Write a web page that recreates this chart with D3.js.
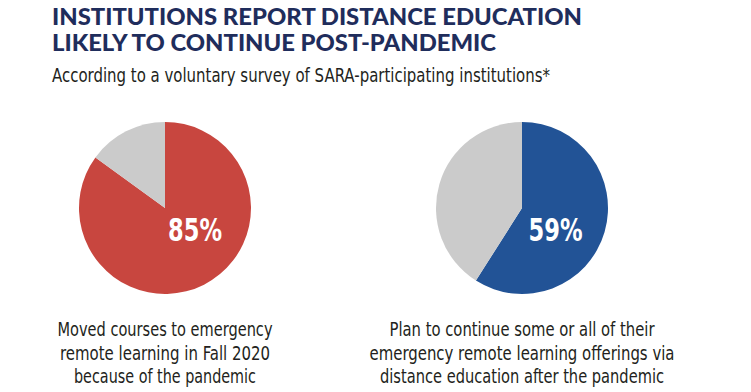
<!DOCTYPE html>
<html>
<head>
<meta charset="utf-8">
<script src="https://cdn.jsdelivr.net/npm/d3@7"></script>
<style>
  html, body { margin: 0; padding: 0; background: #fff; }
  svg { display: block; }
</style>
</head>
<body>
<svg id="chart" width="751" height="392"></svg>
<script>
// ---- Data ----
const titleLines = ["INSTITUTIONS REPORT DISTANCE EDUCATION", "LIKELY TO CONTINUE POST-PANDEMIC"];
const subtitle = "According to a voluntary survey of SARA-participating institutions*";
const categories = ["Moved courses to emergency remote learning in Fall 2020 because of the pandemic",
                    "Plan to continue some or all of their emergency remote learning offerings via distance education after the pandemic"];
const values = [85, 59];
const captionLines = [
  ["Moved courses to emergency", "remote learning in Fall 2020", "because of the pandemic"],
  ["Plan to continue some or all of their", "emergency remote learning offerings via", "distance education after the pandemic"]
];
const mainColors = ["#C8463F", "#225396"];
const restColor = "#CBCBCB";

// ---- Drawing ----
const svg = d3.select("#chart");
const narrow = "'Liberation Sans Narrow', 'DejaVu Sans Condensed', 'Roboto Condensed', sans-serif";

// Title
const titleWidths = [530, 444];
titleLines.forEach((t, i) => {
  svg.append("text")
    .attr("x", 52).attr("y", 25 + i * 26)
    .attr("font-family", "Lato, sans-serif")
    .attr("font-weight", 900)
    .attr("font-size", 22)
    .attr("fill", "#1F2D5C")
    .attr("textLength", titleWidths[i])
    .attr("lengthAdjust", "spacingAndGlyphs")
    .text(t);
});

// Subtitle
svg.append("text")
  .attr("x", 52).attr("y", 82)
  .attr("font-family", narrow)
  .attr("font-size", 20)
  .attr("fill", "#231F20")
  .attr("textLength", 498)
  .attr("lengthAdjust", "spacingAndGlyphs")
  .text(subtitle);

// Pies
const x = d3.scalePoint().domain(d3.range(categories.length)).range([165, 522]);
const cy = 208;
const r = 86;
const pie = d3.pie().sort(null).value(d => d);
const arc = d3.arc().innerRadius(0).outerRadius(r);
const pctOffset = [30, 33.5];
const capWidths = [[215, 210, 182], [265, 305, 284]];

values.forEach((v, i) => {
  const g = svg.append("g").attr("transform", `translate(${x(i)},${cy})`);
  g.selectAll("path")
    .data(pie([v, 100 - v]))
    .join("path")
    .attr("d", arc)
    .attr("fill", (d, j) => j === 0 ? mainColors[i] : restColor);

  g.append("text")
    .attr("x", pctOffset[i]).attr("y", 33)
    .attr("text-anchor", "middle")
    .attr("font-family", narrow)
    .attr("font-weight", "bold")
    .attr("font-size", 32)
    .attr("fill", "#fff")
    .attr("textLength", 54)
    .attr("lengthAdjust", "spacingAndGlyphs")
    .text(v + "%");

  const cap = svg.append("g").attr("transform", `translate(${x(i)},0)`);
  captionLines[i].forEach((line, k) => {
    cap.append("text")
      .attr("x", 0).attr("y", 336 + k * 23.5)
      .attr("text-anchor", "middle")
      .attr("font-family", narrow)
      .attr("font-size", 20)
      .attr("fill", "#231F20")
      .attr("textLength", capWidths[i][k])
      .attr("lengthAdjust", "spacingAndGlyphs")
      .text(line);
  });
});
</script>
</body>
</html>
